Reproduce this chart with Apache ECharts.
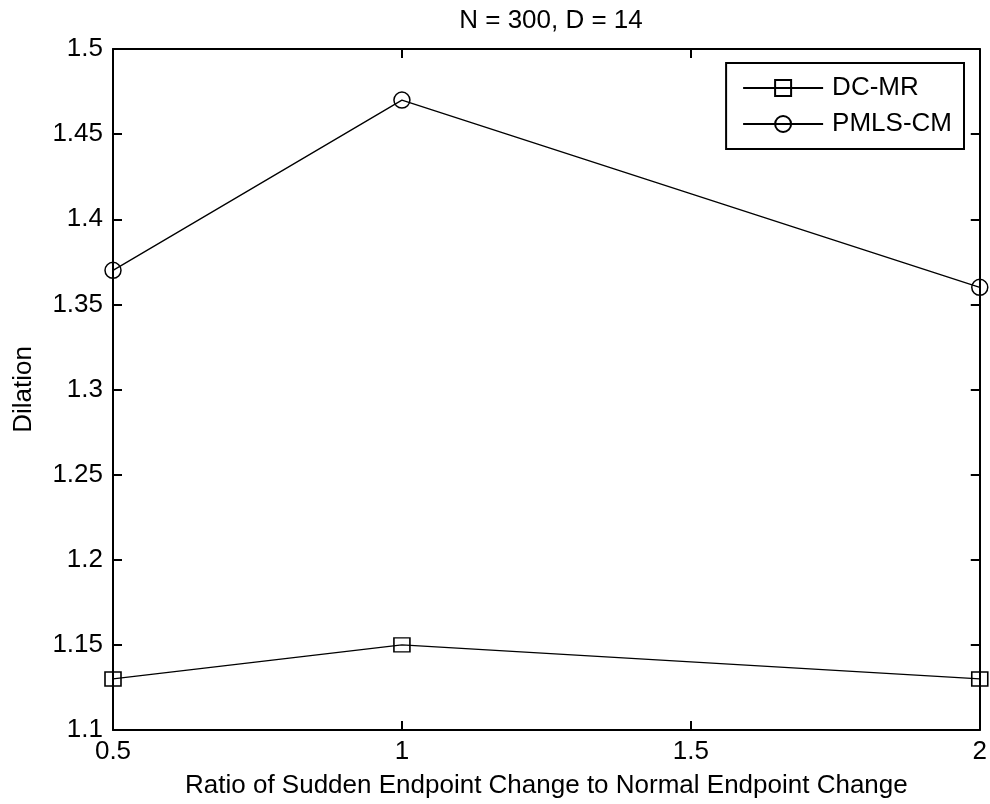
<!DOCTYPE html>
<html>
<head>
<meta charset="utf-8">
<script src="https://cdn.jsdelivr.net/npm/echarts@6/dist/echarts.min.js"></script>
<style>
  html, body { margin: 0; padding: 0; background: #fff; }
  #chart { width: 990px; height: 804px; }
</style>
</head>
<body>
<div id="chart"></div>
<script>
// Ratio of sudden to normal endpoint change
const ratios = [0.5, 1, 2];
// Dilation per method
const dcmr = [1.13, 1.15, 1.13];
const pmlsCm = [1.37, 1.47, 1.36];
const seriesNames = ['DC-MR', 'PMLS-CM'];
const chartTitle = 'N = 300, D = 14';
const xTitle = 'Ratio of Sudden Endpoint Change to Normal Endpoint Change';
const yTitle = 'Dilation';

const FONT = '"Liberation Sans", Arial, sans-serif';
const FS = 26;

const fmt = v => String(parseFloat(v.toFixed(2)));

const chart = echarts.init(document.getElementById('chart'), null, { renderer: 'canvas' });

const axisLine = { show: true, lineStyle: { color: '#000', width: 2 } };
const tick = { show: true, inside: true, length: 9, lineStyle: { color: '#000', width: 2 } };

const toPairs = ys => ratios.map((x, i) => [x, ys[i]]);

chart.setOption({
  animation: false,
  backgroundColor: '#fff',
  title: {
    text: chartTitle,
    left: 546,
    top: 3,
    textAlign: 'center',
    textStyle: { fontFamily: FONT, fontSize: FS, fontWeight: 'normal', color: '#000' }
  },
  grid: { left: 113, right: 6, top: 49, bottom: 73, containLabel: false },
  legend: {
    data: seriesNames,
    orient: 'vertical',
    right: 26,
    top: 63,
    itemWidth: 80,
    itemHeight: 20,
    itemGap: 10,
    padding: [12, 12, 12, 16],
    borderColor: '#000',
    borderWidth: 2,
    backgroundColor: '#fff',
    textStyle: { fontFamily: FONT, fontSize: FS, color: '#000', padding: [0, 0, 0, 4] }
  },
  xAxis: [
    {
      type: 'value', min: 0.5, max: 2, interval: 0.5,
      axisLine, axisTick: tick, splitLine: { show: false },
      axisLabel: { fontFamily: FONT, fontSize: FS, color: '#000', margin: 9, formatter: fmt },
      name: xTitle, nameLocation: 'middle', nameGap: 43,
      nameTextStyle: { fontFamily: FONT, fontSize: FS, color: '#000' }
    },
    {
      type: 'value', position: 'top', min: 0.5, max: 2, interval: 0.5,
      axisLine, axisTick: tick, axisLabel: { show: false }, splitLine: { show: false }
    }
  ],
  yAxis: [
    {
      type: 'value', min: 1.1, max: 1.5, interval: 0.05,
      axisLine, axisTick: tick, splitLine: { show: false },
      axisLabel: { fontFamily: FONT, fontSize: FS, color: '#000', margin: 10, formatter: fmt },
      name: yTitle, nameLocation: 'middle', nameGap: 76, nameRotate: 90,
      nameTextStyle: { fontFamily: FONT, fontSize: FS, color: '#000' }
    },
    {
      type: 'value', position: 'right', min: 1.1, max: 1.5, interval: 0.05,
      axisLine, axisTick: tick, axisLabel: { show: false }, splitLine: { show: false }
    }
  ],
  series: [
    {
      name: seriesNames[0], type: 'line', data: toPairs(dcmr),
      symbol: 'rect', symbolSize: [16, 14], showAllSymbol: true,
      itemStyle: { color: 'transparent', borderColor: '#000', borderWidth: 1.5 },
      lineStyle: { color: '#000', width: 1.3 }
    },
    {
      name: seriesNames[1], type: 'line', data: toPairs(pmlsCm),
      symbol: 'circle', symbolSize: 16, showAllSymbol: true,
      itemStyle: { color: 'transparent', borderColor: '#000', borderWidth: 1.5 },
      lineStyle: { color: '#000', width: 1.3 }
    }
  ]
});
</script>
</body>
</html>
